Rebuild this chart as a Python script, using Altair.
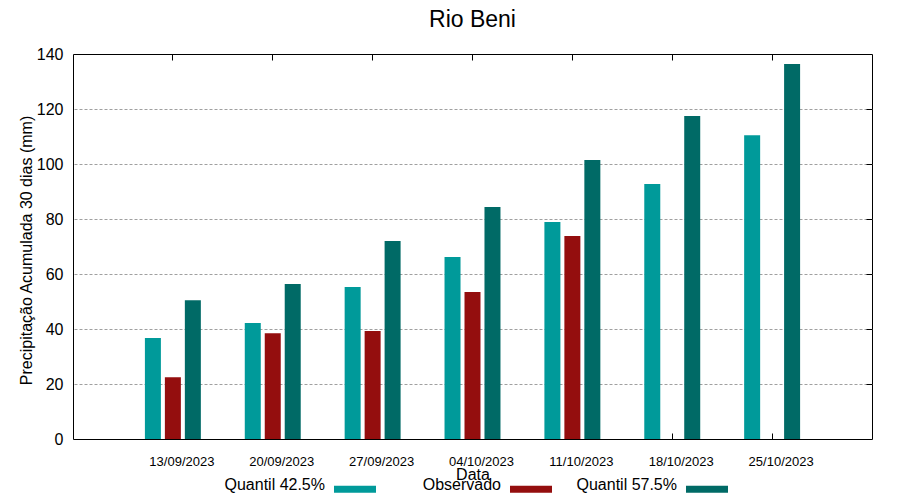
import altair as alt
import pandas as pd

dates = ["13/09/2023", "20/09/2023", "27/09/2023", "04/10/2023",
         "11/10/2023", "18/10/2023", "25/10/2023"]
series = ["Quantil 42.5%", "Observado", "Quantil 57.5%"]
q425 = [36.7, 42.2, 55.3, 66.2, 78.9, 92.7, 110.5]
observado = [22.5, 38.5, 39.3, 53.5, 73.8, None, None]
q575 = [50.5, 56.4, 72.0, 84.4, 101.5, 117.5, 136.4]
colors = ["#009a9a", "#940e0e", "#006a66"]
y_ticks = [0, 20, 40, 60, 80, 100, 120, 140]

rows = []
for name, vals in zip(series, [q425, observado, q575]):
    for d, v in zip(dates, vals):
        if v is not None:
            rows.append({"Data": d, "Serie": name, "Valor": v})
df = pd.DataFrame(rows)

FONT = "Liberation Sans"

xscale = alt.Scale(domain=dates, paddingInner=0, paddingOuter=0.5)
yscale = alt.Scale(domain=[0, 140], nice=False, zero=True)

bars = alt.Chart(df).mark_bar(width=16).encode(
    x=alt.X("Data:N", sort=dates, scale=xscale,
            axis=alt.Axis(orient="bottom", labelAngle=0, labelFontSize=13, labelFont=FONT,
                          labelColor="black", labelPadding=16, labelOffset=9,
                          ticks=False, domain=False,
                          grid=False, title="Data", titleFontSize=16, titleFont=FONT,
                          titleFontWeight="normal", titleColor="black", titleX=399.5,
                          titleY=40, titleBaseline="alphabetic")),
    xOffset=alt.XOffset("Serie:N", sort=series,
                        scale=alt.Scale(domain=series, paddingInner=0, paddingOuter=1)),
    y=alt.Y("Valor:Q", scale=yscale,
            axis=alt.Axis(orient="left", values=y_ticks, labelFontSize=16, labelFont=FONT,
                          labelColor="black", labelPadding=10, ticks=False, domain=False,
                          grid=False,
                          title="Precipitação Acumulada 30 dias (mm)", titleFontSize=16,
                          titleFont=FONT, titleFontWeight="normal", titleColor="black",
                          titleX=-42, titleY=196, titleBaseline="alphabetic")),
    color=alt.Color("Serie:N", sort=series,
                    scale=alt.Scale(domain=series, range=colors),
                    legend=alt.Legend(orient="none", legendX=231, legendY=420,
                                      direction="horizontal", gridAlign="all",
                                      columnPadding=24, title=None,
                                      symbolType="M1.857,0.1H5.857V0.76H1.857Z",
                                      symbolSize=441,
                                      symbolStrokeWidth=0, symbolOpacity=1,
                                      labelAlign="right", labelOffset=0,
                                      labelFontSize=16, labelFont=FONT, labelColor="black",
                                      labelLimit=300)),
)

tick_axis = dict(labels=False, domain=False, title=None, ticks=True,
                 tickSize=6, tickColor="black", tickWidth=1, offset=-6,
                 minExtent=0, maxExtent=0)

ticks_top_right = alt.Chart(df).mark_point(opacity=0).encode(
    x=alt.X("Data:N", sort=dates, scale=xscale,
            axis=alt.Axis(orient="top", grid=False, **tick_axis)),
    y=alt.Y("Valor:Q", scale=yscale,
            axis=alt.Axis(orient="right", values=y_ticks[1:-1], grid=True,
                          gridColor="#a0a0a0", gridDash=[3, 2], gridWidth=1, **tick_axis)),
)

ticks_bottom = alt.Chart(df).mark_point(opacity=0).encode(
    x=alt.X("Data:N", sort=dates, scale=xscale,
            axis=alt.Axis(orient="bottom", grid=False, **tick_axis)),
    y=alt.Y("Valor:Q", scale=yscale, axis=None),
)

chart = alt.layer(ticks_top_right, ticks_bottom, bars).resolve_axis(
    x="independent", y="independent"
).properties(
    width=799, height=385,
    background="white",
    title=alt.TitleParams("Rio Beni", fontSize=23, font=FONT, fontWeight="normal",
                          color="black", anchor="middle", frame="group",
                          baseline="alphabetic", offset=-4),
    autosize=alt.AutoSizeParams(type="none"),
    padding={"left": 65, "top": 46, "right": 20, "bottom": 60},
).configure_view(stroke="black", strokeWidth=1)

chart.save("out.html", embed_options={"renderer": "svg", "actions": False})
